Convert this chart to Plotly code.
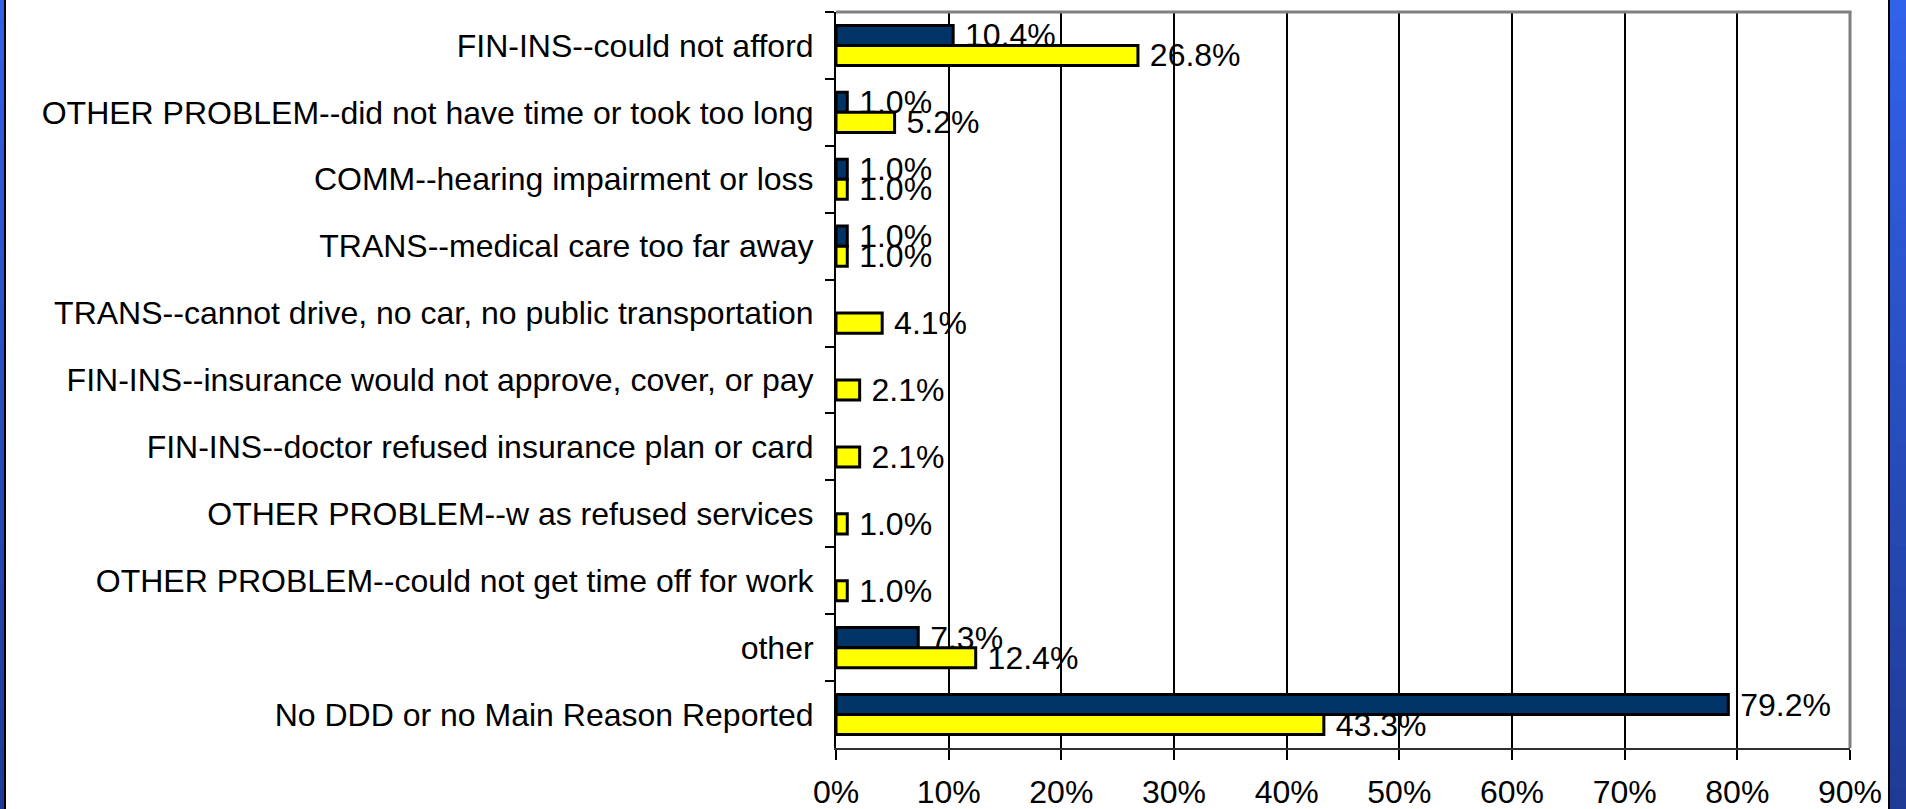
import plotly.graph_objects as go

# ---------------- data ----------------
categories = [
    "FIN-INS--could not afford",
    "OTHER PROBLEM--did not have time or took too long",
    "COMM--hearing impairment or loss",
    "TRANS--medical care too far away",
    "TRANS--cannot drive, no car, no public transportation",
    "FIN-INS--insurance would not approve, cover, or pay",
    "FIN-INS--doctor refused insurance plan or card",
    "OTHER PROBLEM--w as refused services",
    "OTHER PROBLEM--could not get time off for work",
    "other",
    "No DDD or no Main Reason Reported",
]
series_blue = [10.4, 1.0, 1.0, 1.0, None, None, None, None, None, 7.3, 79.2]
series_yellow = [26.8, 5.2, 1.0, 1.0, 4.1, 2.1, 2.1, 1.0, 1.0, 12.4, 43.3]
x_tick_values = [0, 10, 20, 30, 40, 50, 60, 70, 80, 90]
x_tick_labels = ["0%", "10%", "20%", "30%", "40%", "50%", "60%", "70%", "80%", "90%"]

# ---------------- layout geometry (pixels) ----------------
W, H = 1906, 809
PL, PR, PT, PB = 836, 1850, 12, 748
FONT = "Liberation Sans, Arial, Helvetica, sans-serif"
FS = 32


def lbl(v):
    return None if v is None else "\u00a0%.1f%%" % v


fig = go.Figure()
fig.add_trace(go.Bar(
    y=categories, x=series_blue, orientation="h", name="Series 1",
    marker=dict(color="#003366", line=dict(color="black", width=3)),
    text=[lbl(v) for v in series_blue], textposition="outside",
    constraintext="none", cliponaxis=False,
    textfont=dict(family=FONT, size=FS, color="black"),
    hoverinfo="x+y",
))
fig.add_trace(go.Bar(
    y=categories, x=series_yellow, orientation="h", name="Series 2",
    marker=dict(color="#FFFF00", line=dict(color="black", width=3)),
    text=[lbl(v) for v in series_yellow], textposition="outside",
    constraintext="none", cliponaxis=False,
    textfont=dict(family=FONT, size=FS, color="black"),
    hoverinfo="x+y",
))


def px_x(p):
    return (p - PL) / (PR - PL)


def px_y(p):
    return (PB - p) / (PB - PT)


shapes = []
# gradient side strips
N = 40
top_rgb = (0x32, 0x62, 0xEA)
bot_rgb = (0x1E, 0x3A, 0x94)
for i in range(N):
    t = (i + 0.5) / N
    c = tuple(int(round(top_rgb[k] + (bot_rgb[k] - top_rgb[k]) * t)) for k in range(3))
    col = "rgb(%d,%d,%d)" % c
    y0 = H * i / N
    y1 = H * (i + 1) / N + 1
    for (xa, xb) in [(0, 4), (1890, W + 2)]:
        shapes.append(dict(type="rect", xref="paper", yref="paper",
                           x0=px_x(xa), x1=px_x(xb), y0=px_y(y1), y1=px_y(y0),
                           fillcolor=col, line=dict(width=0), layer="above"))
for (xa, xb) in [(4, 6), (1888, 1890)]:
    shapes.append(dict(type="rect", xref="paper", yref="paper",
                       x0=px_x(xa), x1=px_x(xb), y0=px_y(H + 2), y1=px_y(-2),
                       fillcolor="black", line=dict(width=0), layer="above"))
# plot-area grey border (top and right)
shapes.append(dict(type="line", xref="paper", yref="paper", x0=0, x1=1.0015, y0=1, y1=1,
                   line=dict(color="#808080", width=3), layer="above"))
shapes.append(dict(type="line", xref="paper", yref="paper", x0=1, x1=1, y0=0, y1=1,
                   line=dict(color="#808080", width=3), layer="above"))

fig.update_layout(
    width=W, height=H,
    margin=dict(l=PL, r=W - PR, t=PT, b=H - PB, pad=0, autoexpand=False),
    paper_bgcolor="white", plot_bgcolor="white",
    barmode="group", bargap=0.4, bargroupgap=0,
    showlegend=False,
    font=dict(family=FONT, size=FS, color="black"),
    shapes=shapes,
    xaxis=dict(
        range=[0, 90], tickmode="array", tickvals=x_tick_values, ticktext=x_tick_labels,
        showgrid=True, gridcolor="black", gridwidth=1.6, zeroline=False,
        showline=True, linecolor="#303030", linewidth=2,
        ticks="outside", ticklen=10, tickwidth=2, tickcolor="black",
        tickfont=dict(family=FONT, size=FS, color="black"),
        ticklabelstandoff=5, automargin=False,
    ),
    yaxis=dict(
        type="category", autorange="reversed", categoryorder="array", categoryarray=categories,
        showgrid=False, zeroline=False,
        showline=True, linecolor="black", linewidth=2,
        ticks="outside", tickson="boundaries", ticklen=9, tickwidth=2, tickcolor="black",
        tickfont=dict(family=FONT, size=FS, color="black"),
        ticklabelstandoff=14, automargin=False,
    ),
)

fig.write_html(
    "out.html",
    config={"displayModeBar": False},
    post_script="document.body.style.margin='0';document.body.style.padding='0';"
                "document.body.style.overflow='hidden';",
)
